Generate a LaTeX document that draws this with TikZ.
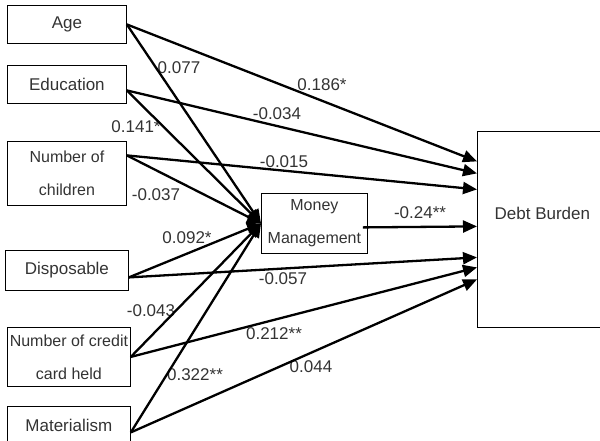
\documentclass[tikz,border=0pt]{standalone}
\usepackage{fontspec}
\setmainfont{Liberation Sans}
\usetikzlibrary{arrows.meta}

\tikzset{
  varbox/.style={draw, line width=0.8pt, inner sep=0pt, anchor=north west,
    text=black!80, font=\fontsize{17}{20}\selectfont},
  twoline/.style={varbox, align=center, font=\fontsize{16}{33}\selectfont},
  coef/.style={text=black!80, inner sep=0pt, font=\fontsize{17}{20}\selectfont},
  path/.style={line width=2.3pt, -{Triangle[length=14pt,width=12pt]}}
}

\begin{document}
\begin{tikzpicture}[x=1pt, y=-1pt]

  \useasboundingbox (0,0) rectangle (600,440);

  %% predictors
  \node[varbox, minimum width=119pt, minimum height=38pt] (age) at (7,5) {Age};
  \node[varbox, minimum width=119pt, minimum height=38pt] (edu) at (7,65) {Education};
  \node[twoline, minimum width=119pt, minimum height=64pt] (kids) at (7,141)
    {Number of\\children};
  \node[varbox, minimum width=123pt, minimum height=40pt] (disp) at (5,250) {Disposable};
  \node[twoline, minimum width=123pt, minimum height=59pt] (card) at (7,327)
    {Number of credit\\card held};
  \node[varbox, minimum width=123pt, minimum height=38pt] (mat) at (7,406) {Materialism};

  %% mediator and outcome
  \node[twoline, minimum width=106pt, minimum height=60pt] (mm) at (261,193)
    {Money\\Management};
  \node[varbox, minimum width=130pt, inner ysep=0pt, text height=88pt, text depth=108pt]
    (db) at (477,131) {Debt Burden};

  %% coefficients
  \node[coef] (c1) at (179,68) {0.077};
  \node[coef] (c2) at (322,85) {0.186*};
  \node[coef] (c3) at (136,127) {0.141*};
  \node[coef] (c4) at (277,114) {-0.034};
  \node[coef] (c5) at (284,162) {-0.015};
  \node[coef] (c6) at (156,195) {-0.037};
  \node[coef] (c7) at (187,238) {0.092*};
  \node[coef] (c8) at (420,213) {-0.24**};
  \node[coef] (c9) at (283,279) {-0.057};
  \node[coef] (c10) at (151,311) {-0.043};
  \node[coef] (c11) at (274,334) {0.212**};
  \node[coef] (c12) at (311,367) {0.044};
  \node[coef] (c13) at (195,375) {0.322**};

  %% paths into money management
  \draw[path] (age.east) -- (mm.west);
  \draw[path] ([yshift=-6pt]edu.east) -- (mm.west);
  \draw[path] ([yshift=18pt]kids.east) -- (mm.west);
  \draw[path] ([yshift=-7pt]disp.east) -- (mm.west);
  \draw[path] (card.east) -- (mm.west);
  \draw[path] ([yshift=-7pt]mat.east) -- (mm.west);

  %% paths into debt burden
  \draw[path] (age.east) -- ([yshift=68pt]db.west);
  \draw[path] ([yshift=-6pt]edu.east) -- ([yshift=56pt]db.west);
  \draw[path] ([yshift=18pt]kids.east) -- ([yshift=40pt]db.west);
  \draw[path] ([xshift=-5pt,yshift=-4pt]mm.east) -- ([yshift=3pt]db.west);
  \draw[path] ([yshift=-7pt]disp.east) -- ([yshift=-28pt]db.west);
  \draw[path] (card.east) -- ([yshift=-38pt]db.west);
  \draw[path] ([yshift=-7pt]mat.east) -- ([yshift=-50pt]db.west);

\end{tikzpicture}
\end{document}
